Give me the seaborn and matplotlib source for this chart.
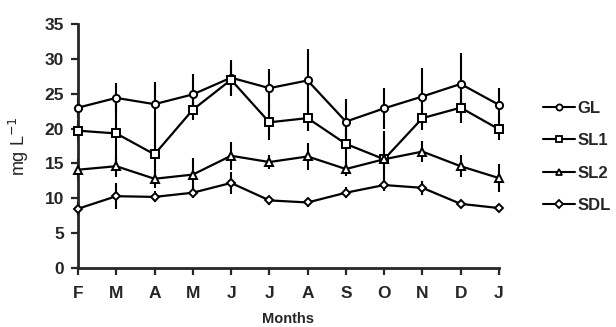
import matplotlib

matplotlib.use('Agg')
import matplotlib.pyplot as plt
import numpy as np
import pandas as pd
import seaborn as sns

months = ['F', 'M', 'A', 'M', 'J', 'J', 'A', 'S', 'O', 'N', 'D', 'J']
series = ['GL', 'SL1', 'SL2', 'SDL']

gl = [23.0, 24.4, 23.5, 24.9, 27.3, 25.8, 26.9, 21.0, 22.9, 24.6, 26.4, 23.4]
sl1 = [19.7, 19.3, 16.3, 22.7, 27.0, 20.9, 21.5, 17.8, 15.6, 21.5, 23.0, 19.9]
sl2 = [14.1, 14.6, 12.8, 13.4, 16.1, 15.2, 16.0, 14.2, 15.6, 16.7, 14.6, 12.9]
sdl = [8.5, 10.3, 10.2, 10.8, 12.2, 9.7, 9.4, 10.8, 11.9, 11.5, 9.2, 8.6]

gl_err = [1.5, 2.1, 3.2, 3.0, 2.6, 2.8, 4.5, 3.2, 2.9, 4.1, 4.4, 2.4]
sl1_err = [1.5, 4.8, 4.2, 1.5, 2.0, 2.6, 1.9, 3.5, 4.0, 1.7, 2.2, 1.5]
sl2_err = [1.5, 1.5, 1.3, 2.4, 2.0, 1.0, 2.0, 1.0, 1.5, 1.5, 1.6, 2.0]
sdl_err = [1.0, 1.9, 0.8, 0.8, 1.6, 0.6, 0.6, 0.8, 0.8, 1.0, 0.6, 0.5]

values = {'GL': gl, 'SL1': sl1, 'SL2': sl2, 'SDL': sdl}
errors = {'GL': gl_err, 'SL1': sl1_err, 'SL2': sl2_err, 'SDL': sdl_err}
markers = {'GL': 'o', 'SL1': 's', 'SL2': '^', 'SDL': 'D'}
msizes = {'GL': 5.2, 'SL1': 5.2, 'SL2': 5.5, 'SDL': 4.5}

rows = []
for name in series:
    for i, v in enumerate(values[name]):
        rows.append({'x': i, 'value': v, 'series': name})
df = pd.DataFrame(rows)

sns.set_style('ticks')
plt.rcParams['font.family'] = ['Liberation Sans', 'DejaVu Sans']

fig = plt.figure(figsize=(6.16, 3.27), dpi=100)
ax = fig.add_axes([0.1266, 0.1804, 0.6834, 0.7462])

xx = np.arange(len(months))
for name in series:
    ax.errorbar(xx, values[name], yerr=errors[name], fmt='none',
                ecolor='black', elinewidth=1.5, capsize=0, clip_on=False, zorder=2)

sns.lineplot(data=df, x='x', y='value', hue='series', style='series',
             palette=['black'] * 4, markers=markers, dashes=False,
             linewidth=1.6, ax=ax, legend=False, zorder=3)

# white-filled markers like the original
for line, name in zip(ax.lines[-4:], series):
    line.set_markerfacecolor('white')
    line.set_markeredgecolor('black')
    line.set_markeredgewidth(1.4)
    line.set_markersize(msizes[name])
    line.set_clip_on(False)

ax.set_xlim(0, 11)
ax.set_ylim(0, 35)
ax.set_xticks(xx)
ax.set_xticklabels(months, fontsize=12.5, fontweight='bold')
ax.set_yticks(np.arange(0, 36, 5))
ax.set_yticklabels([str(v) for v in range(0, 36, 5)], fontsize=12.5, fontweight='bold')
ax.tick_params(axis='both', direction='out', length=5, width=1.6, pad=5)
ax.tick_params(axis='x', pad=8)
for side in ['left', 'bottom']:
    ax.spines[side].set_linewidth(2.0)
sns.despine(ax=ax)

ax.set_xlabel('Months', fontsize=10.5, fontweight='bold', labelpad=8)
ax.set_ylabel('mg L$^{-1}$', fontsize=13, labelpad=10)

handles = [plt.Line2D([], [], color='black', lw=1.5, marker=markers[n],
                      markersize=msizes[n] - 0.8, markerfacecolor='white',
                      markeredgecolor='black', markeredgewidth=1.3) for n in series]
fig.legend(handles, series, loc='center left', bbox_to_anchor=(0.882, 0.52),
           frameon=False, prop={'size': 12, 'weight': 'bold'},
           handlelength=1.9, handletextpad=0.15, labelspacing=1.05,
           borderaxespad=0, borderpad=0)

fig.savefig('out.png', dpi=100)
